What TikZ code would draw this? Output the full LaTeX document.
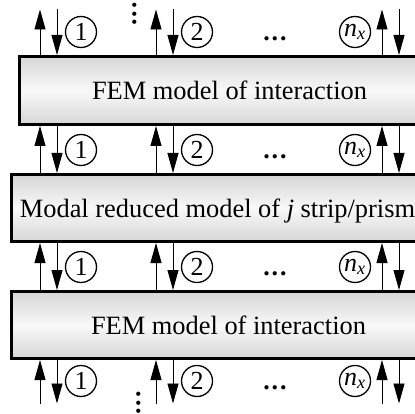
\documentclass[tikz,border=0pt]{standalone}
\usepackage{amsmath}
\usepackage{fontspec}
\setmainfont{Liberation Serif}
\usetikzlibrary{arrows.meta}
\begin{document}
\begin{tikzpicture}[x=1pt,y=-1pt,
  blk/.style={draw=black, line width=3pt, top color=gray!32, bottom color=gray!32,
    middle color=gray!5, inner sep=0pt, text depth=0pt,
    font=\fontsize{26.4}{30}\selectfont},
  port/.style={circle, draw=black, line width=1.3pt, minimum size=31pt, inner sep=0pt,
    fill=white, font=\fontsize{26}{30}\selectfont},
  flow/.style={line width=0.9pt, -{Triangle[length=20pt,width=11pt]}},
  dotrow/.style={inner sep=0pt, font=\fontsize{26}{30}\selectfont\bfseries}]
\useasboundingbox (0,0) rectangle (415,414);
\clip (0,0) rectangle (415,414);

% the three model blocks (they run on past the right edge)
\node[blk, minimum width=420pt, minimum height=68pt] (B1) at (229.5,90.5)
  {FEM model of interaction};
\node[blk, minimum width=412pt, minimum height=67pt] (B2) at (217.5,208)
  {Modal reduced model of \textit{j} strip/prism};
\node[blk, minimum width=434pt, minimum height=67pt] (B3) at (228.5,325)
  {FEM model of interaction};

% columns of the up/down connector pairs and the free ends
\coordinate (ua) at (40,0);  \coordinate (da) at (57,0);
\coordinate (ub) at (156,0); \coordinate (db) at (173,0);
\coordinate (uc) at (382,0); \coordinate (dc) at (399,0);
\coordinate (top) at (0,9.5);
\coordinate (bottom) at (0,403.5);

\foreach \u/\d in {ua/da,ub/db,uc/dc} {
  \draw[flow] (\u |- B1.north) -- (\u |- top);
  \draw[flow] (\d |- top) -- (\d |- B1.north);
  \draw[flow] (\u |- B2.north) -- (\u |- B1.south);
  \draw[flow] (\d |- B1.south) -- (\d |- B2.north);
  \draw[flow] (\u |- B3.north) -- (\u |- B2.south);
  \draw[flow] (\d |- B2.south) -- (\d |- B3.north);
  \draw[flow] (\u |- bottom) -- (\u |- B3.south);
  \draw[flow] (\d |- B3.south) -- (\d |- bottom);
}

% numbered ports of each interface
\foreach \r/\y in {1/32,2/150,3/267,4/381} {
  \node[port] (p\r-a) at (81,\y) {1};
  \node[port] (p\r-b) at (197,\y) {2};
  \node[port] (p\r-n) at (355,\y) {$\textit{n}_{\textit{x}}$};
  \node[dotrow] (e\r) at (275,\y+7) {.\hspace{2pt}.\hspace{2pt}.};
}

% vertical continuation marks
\node[dotrow, rotate=90] (vtop) at (135,14) {.\hspace{2pt}.\hspace{2pt}.};
\node[dotrow, rotate=90] (vbot) at (139,403) {.\hspace{2pt}.\hspace{2pt}.};
\end{tikzpicture}
\end{document}
